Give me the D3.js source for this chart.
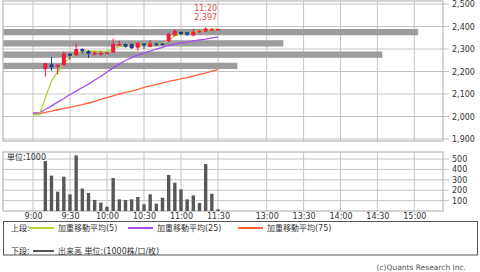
<!DOCTYPE html>
<html><head><meta charset="utf-8">
<script src="https://cdn.jsdelivr.net/npm/d3@7"></script>
<style>
html,body{margin:0;padding:0;background:#fff;}
svg{display:block;font-family:"DejaVu Sans","Noto Sans CJK JP",sans-serif;}
</style></head>
<body>
<script>
// ---- data (minutes since 9:00) ----
const candleTimes = [10,15,20,25,30,35,40,45,50,55,60,65,70,75,80,85,90,95,100,105,110,115,120,125,130,135,140,145,150];
const opens  = [2210,2232,2222,2228,2279,2272,2300,2291,2278,2277,2282,2285,2318,2322,2322,2306,2324,2310,2325,2324,2335,2360,2376,2374,2360,2375,2378,2382,2388];
const highs  = [2237,2265,2232,2290,2281,2323,2303,2294,2291,2292,2286,2347,2336,2324,2324,2330,2326,2340,2327,2326,2372,2388,2378,2376,2389,2384,2397,2393,2389];
const lows   = [2177,2203,2187,2226,2253,2270,2280,2260,2270,2271,2279,2284,2315,2306,2300,2292,2300,2308,2314,2316,2330,2358,2362,2358,2356,2372,2376,2380,2388];
const closes = [2236,2218,2230,2280,2270,2300,2290,2279,2283,2282,2285,2322,2322,2310,2304,2327,2316,2325,2316,2318,2368,2381,2366,2364,2377,2381,2390,2388,2389];
const volumes = [480,340,186,330,160,535,215,173,106,80,41,317,112,106,112,135,64,160,70,128,346,272,208,112,150,77,452,166,16];

const maTimes = [0,5,10,15,20,25,30,35,40,45,50,55,60,65,70,75,80,85,90,95,100,105,110,115,120,125,130,135,140,145,150];
const ma5  = [2007,2007,2082,2158,2198,2233,2264,2280,2289,2291,2290,2289,2291,2300,2311,2316,2316,2318,2318,2320,2320,2322,2340,2358,2367,2371,2373,2380,2384,2387,2389];
const ma25 = [2016,2016,2031,2047,2064,2080,2098,2113,2129,2144,2162,2178,2198,2216,2233,2249,2262,2273,2282,2291,2300,2307,2316,2322,2327,2331,2336,2340,2344,2349,2353];
const ma75 = [2012,2012,2018,2024,2030,2036,2041,2047,2053,2060,2067,2076,2084,2092,2100,2107,2113,2120,2129,2136,2142,2149,2156,2162,2167,2173,2180,2187,2193,2202,2209];

const bandLows = [2350,2300,2250,2200];
const bandVolumes = [1885,1272,1722,1063];
const bandSize = 50;

const priceTicks = [1900,2000,2100,2200,2300,2400,2500];
const volTicks = [100,200,300,400,500];
const timeTicks = [0,30,60,90,120,150,240,270,300,330,360];
const timeLabels = ["9:00","9:30","10:00","10:30","11:00","11:30","13:00","13:30","14:00","14:30","15:00"];

const highTime = 140, highPrice = 2397, highLabel = "11:20";

const legendItems = [
  {label:"加重移動平均(5)", color:"#b2d236"},
  {label:"加重移動平均(25)", color:"#a24cf2"},
  {label:"加重移動平均(75)", color:"#ff6038"}
];

// ---- layout ----
const W=480,H=272;
const L=3,R=443;
const mainTop=1, mainBot=141;
const volTop=152, volBot=211;

const svg = d3.select("body").append("svg").attr("width",W).attr("height",H);

const x = d3.scaleLinear().domain([0,150,210,360]).range([33,218,229.8,414.3]);
const y = d3.scaleLinear().domain([1900,2500]).range([139,4]);
const vy = d3.scaleLinear().domain([0,500]).range([211,159]);
const bx = d3.scaleLinear().domain([0,2000]).range([L,R]);

const gridC="#c4c4c4", borderC="#a8a8a8", textC="#333";

// main panel grid
const gMain = svg.append("g");
gMain.selectAll("line.h").data(priceTicks).join("line")
  .attr("x1",L).attr("x2",R+6).attr("y1",d=>y(d)).attr("y2",d=>y(d))
  .attr("stroke",gridC).attr("stroke-width",1);
gMain.selectAll("line.v").data(timeTicks).join("line")
  .attr("x1",d=>x(d)).attr("x2",d=>x(d)).attr("y1",mainTop).attr("y2",mainBot)
  .attr("stroke",gridC).attr("stroke-width",1);
gMain.append("rect").attr("x",L).attr("y",mainTop).attr("width",R-L).attr("height",mainBot-mainTop)
  .attr("fill","none").attr("stroke",borderC);

// price axis labels
const pAxis = d3.axisRight(y).tickValues(priceTicks).tickSize(0).tickPadding(9)
  .tickFormat(d3.format(","));
const pa = svg.append("g").attr("transform",`translate(${R},0)`).call(pAxis);
pa.select(".domain").remove();
pa.selectAll("text").attr("font-size",8).attr("fill",textC).attr("font-family","DejaVu Sans");

// price band volume bars
svg.append("g").selectAll("rect").data(bandLows).join("rect")
  .attr("x",L+0.5)
  .attr("y",(d)=>y(d+bandSize)+ (y(d)-y(d+bandSize))*0.22)
  .attr("height",(d)=>(y(d)-y(d+bandSize))*0.56)
  .attr("width",(d,i)=>bx(bandVolumes[i])-L)
  .attr("fill","#9c9c9c");

// MA lines
const lineGen = arr => d3.line().x((d,i)=>x(maTimes[i])).y(d=>y(d))(arr);
const mas=[ma75,ma25,ma5];
const maColors=[legendItems[2].color,legendItems[1].color,legendItems[0].color];
mas.forEach((m,i)=>{
  svg.append("path").attr("d",lineGen(m)).attr("fill","none")
    .attr("stroke",maColors[i]).attr("stroke-width",1.3);
});

// candles
const up="#ee1c3c", down="#1e3c96";
const cg = svg.append("g");
candleTimes.forEach((t,i)=>{
  const o=opens[i],h=highs[i],l=lows[i],c=closes[i];
  const col = c>=o?up:down;
  const cx = x(t);
  cg.append("line").attr("x1",cx).attr("x2",cx).attr("y1",y(h)).attr("y2",y(l))
    .attr("stroke",col).attr("stroke-width",1);
  const top=y(Math.max(o,c)), bot=y(Math.min(o,c));
  cg.append("rect").attr("x",cx-2).attr("width",4).attr("y",top)
    .attr("height",Math.max(1.5,bot-top)).attr("fill",col);
});

// high annotation
svg.append("text").attr("x",x(highTime)).attr("y",11).attr("text-anchor","middle")
  .attr("font-size",8).attr("fill","#e04a4a").text(highLabel);
svg.append("text").attr("x",x(highTime)).attr("y",20).attr("text-anchor","middle")
  .attr("font-size",8).attr("fill","#e04a4a").text(d3.format(",")(highPrice));

// volume panel
const gVol = svg.append("g");
gVol.selectAll("line.h").data(volTicks).join("line")
  .attr("x1",L).attr("x2",R+6).attr("y1",d=>vy(d)).attr("y2",d=>vy(d))
  .attr("stroke",gridC).attr("stroke-width",1);
gVol.selectAll("line.v").data(timeTicks).join("line")
  .attr("x1",d=>x(d)).attr("x2",d=>x(d)).attr("y1",volTop).attr("y2",volBot)
  .attr("stroke",gridC).attr("stroke-width",1);
gVol.append("rect").attr("x",L).attr("y",volTop).attr("width",R-L).attr("height",volBot-volTop)
  .attr("fill","none").attr("stroke",borderC);

gVol.selectAll("rect.bar").data(volumes).join("rect")
  .attr("x",(d,i)=>x(candleTimes[i])-1.7).attr("width",3.4)
  .attr("y",d=>vy(d)).attr("height",d=>vy(0)-vy(d))
  .attr("fill","#585858");

const vAxis = d3.axisRight(vy).tickValues(volTicks).tickSize(0).tickPadding(9);
const va = svg.append("g").attr("transform",`translate(${R},0)`).call(vAxis);
va.select(".domain").remove();
va.selectAll("text").attr("font-size",8).attr("fill",textC).attr("font-family","DejaVu Sans");

svg.append("text").attr("x",7).attr("y",159.5).attr("font-size",8).attr("fill",textC)
  .text("単位:1000");

// time axis labels
const tAxis = d3.axisBottom(x).tickValues(timeTicks).tickSize(0).tickPadding(2)
  .tickFormat((d,i)=>timeLabels[i]);
const ta = svg.append("g").attr("transform",`translate(0,${volBot})`).call(tAxis);
ta.select(".domain").remove();
ta.selectAll("text").attr("font-size",8).attr("fill",textC).attr("font-family","DejaVu Sans");

// legend box
svg.append("rect").attr("x",3.5).attr("y",221.5).attr("width",474).attr("height",33.5)
  .attr("fill","none").attr("stroke","#555");
svg.append("text").attr("x",11).attr("y",231).attr("font-size",8).attr("fill",textC).text("上段:");
const legX=[29,128,238];
legendItems.forEach((it,i)=>{
  svg.append("line").attr("x1",legX[i]).attr("x2",legX[i]+25).attr("y1",228).attr("y2",228)
    .attr("stroke",it.color).attr("stroke-width",2);
  svg.append("text").attr("x",legX[i]+29).attr("y",231).attr("font-size",8).attr("fill",textC).text(it.label);
});
svg.append("text").attr("x",11).attr("y",254).attr("font-size",8).attr("fill",textC).text("下段:");
svg.append("line").attr("x1",33).attr("x2",54).attr("y1",251).attr("y2",251)
  .attr("stroke","#555").attr("stroke-width",2);
svg.append("text").attr("x",58).attr("y",254).attr("font-size",8).attr("fill",textC).text("出来高 単位:(1000株/口/枚)");

svg.append("text").attr("x",466).attr("y",269.5).attr("text-anchor","end")
  .attr("font-size",7.5).attr("fill","#555").text("(c)Quants Research Inc.");
</script>
</body></html>
